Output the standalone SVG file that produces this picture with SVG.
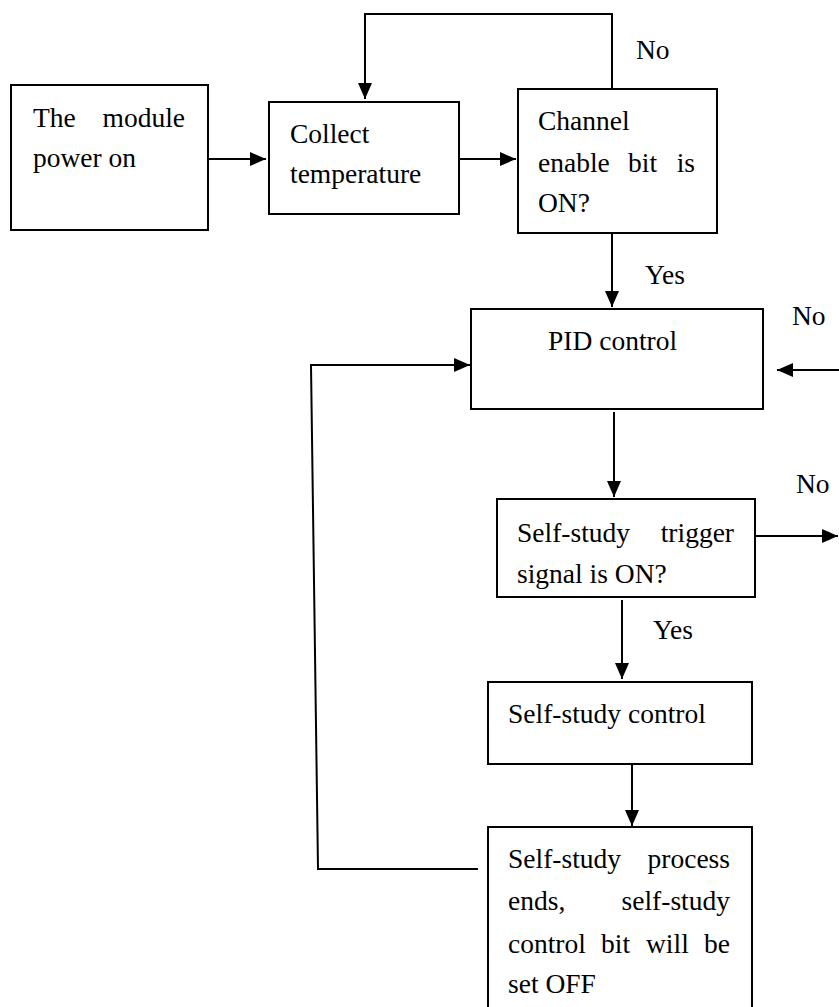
<svg xmlns="http://www.w3.org/2000/svg" width="839" height="1007" viewBox="0 0 839 1007">
<style>
.box{fill:#fff;stroke:#000;stroke-width:2}
.ln{fill:none;stroke:#000;stroke-width:2}
.t{font-family:"Liberation Serif","Times New Roman",serif;font-size:27.5px;fill:#000}
.e{text-anchor:end}
</style>
<defs>
<marker id="ah" markerUnits="userSpaceOnUse" markerWidth="16" markerHeight="16" refX="16" refY="8" orient="auto" viewBox="0 0 16 16">
<path d="M0,1 L16,8 L0,15 z" fill="#000"/>
</marker>
</defs>
<rect width="839" height="1007" fill="#fff"/>
<g id="connectors">
<line class="ln" x1="208" y1="159" x2="266" y2="159" marker-end="url(#ah)"/>
<line class="ln" x1="459" y1="159" x2="516" y2="159" marker-end="url(#ah)"/>
<polyline class="ln" points="612,89 612,14 365,14 365,99" marker-end="url(#ah)"/>
<line class="ln" x1="612" y1="233" x2="612" y2="307" marker-end="url(#ah)"/>
<line class="ln" x1="839" y1="370" x2="777" y2="370" marker-end="url(#ah)"/>
<line class="ln" x1="614" y1="412" x2="614" y2="497" marker-end="url(#ah)"/>
<line class="ln" x1="752" y1="536" x2="838" y2="536" marker-end="url(#ah)"/>
<line class="ln" x1="622" y1="600" x2="622" y2="679" marker-end="url(#ah)"/>
<line class="ln" x1="632" y1="764" x2="632" y2="826" marker-end="url(#ah)"/>
<polyline class="ln" points="478,869 318,869 311,365 470,365" marker-end="url(#ah)"/>
<text class="t" x="636" y="59">No</text>
<text class="t" x="645" y="284">Yes</text>
<text class="t" x="792" y="325">No</text>
<text class="t" x="796" y="493">No</text>
<text class="t" x="653" y="639">Yes</text>
</g>
<g id="power">
<rect class="box" x="11" y="85" width="197" height="145"/>
<text class="t" x="33" y="127">The</text>
<text class="t e" x="185" y="127">module</text>
<text class="t" x="33" y="167">power on</text>
</g>
<g id="collect">
<rect class="box" x="269" y="102" width="190" height="112"/>
<text class="t" x="290" y="143">Collect</text>
<text class="t" x="290" y="183">temperature</text>
</g>
<g id="channel">
<rect class="box" x="518" y="89" width="199" height="144"/>
<text class="t" x="538" y="130">Channel</text>
<text class="t" x="538" y="172">enable</text>
<text class="t" x="628" y="172">bit</text>
<text class="t e" x="695" y="172">is</text>
<text class="t" x="538" y="212">ON?</text>
</g>
<g id="pid">
<rect class="box" x="471" y="309" width="292" height="100"/>
<text class="t" x="548" y="350">PID control</text>
</g>
<g id="trigger">
<rect class="box" x="497" y="499" width="258" height="98"/>
<text class="t" x="517" y="542">Self-study</text>
<text class="t e" x="734" y="542">trigger</text>
<text class="t" x="517" y="583">signal is ON?</text>
</g>
<g id="selfstudy">
<rect class="box" x="488" y="682" width="264" height="82"/>
<text class="t" x="508" y="723">Self-study control</text>
</g>
<g id="ends">
<rect class="box" x="488" y="827" width="264" height="200"/>
<text class="t" x="508" y="868">Self-study</text>
<text class="t e" x="730" y="868">process</text>
<text class="t" x="508" y="910">ends,</text>
<text class="t e" x="730" y="910">self-study</text>
<text class="t" x="508" y="953">control</text>
<text class="t" x="601" y="953">bit</text>
<text class="t" x="646" y="953">will</text>
<text class="t e" x="730" y="953">be</text>
<text class="t" x="508" y="993">set OFF</text>
</g>
</svg>
